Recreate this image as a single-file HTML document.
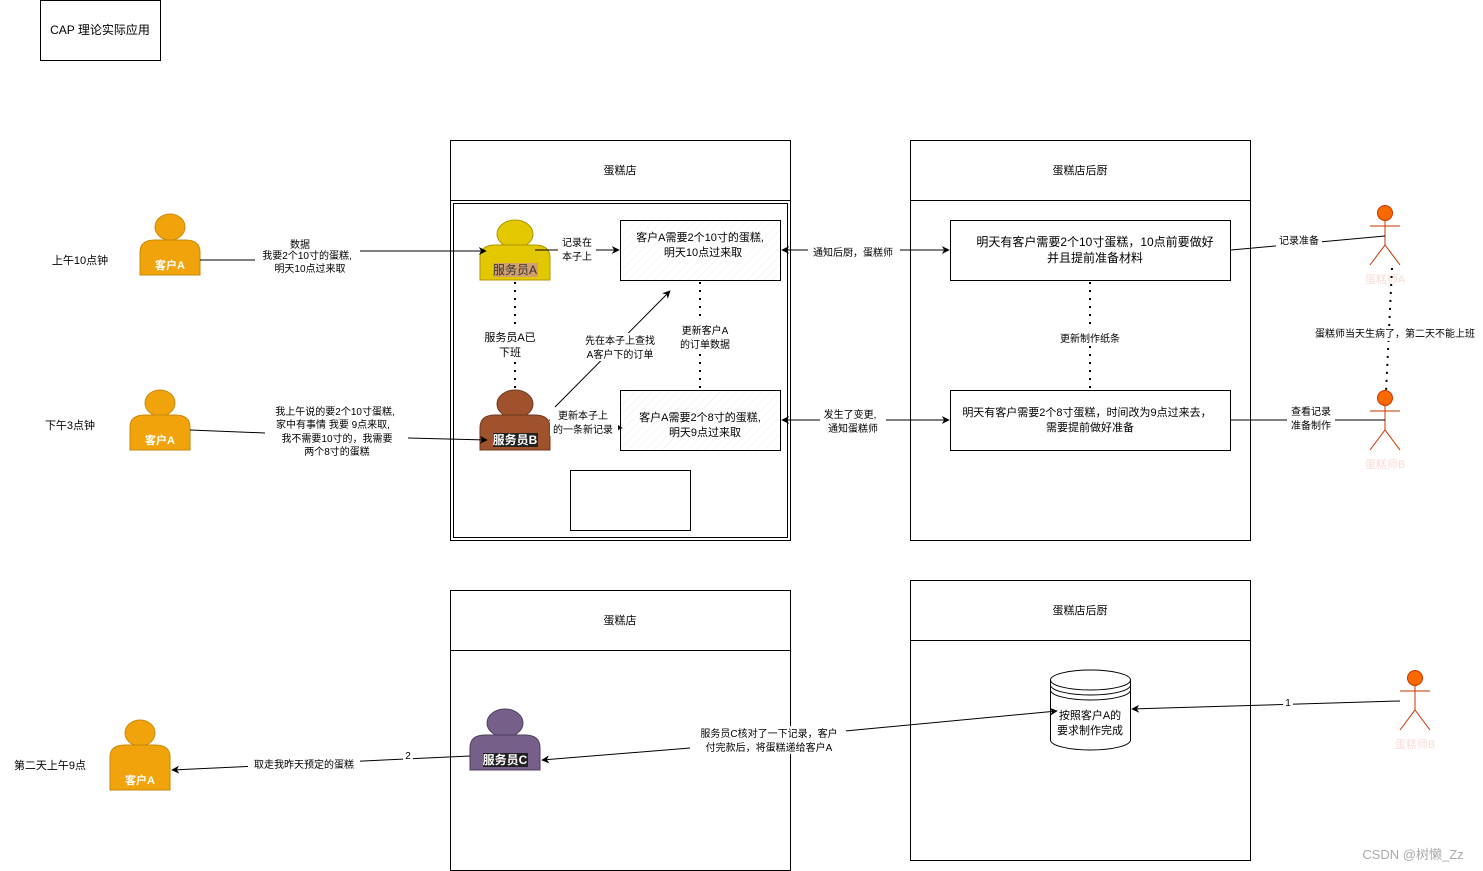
<!DOCTYPE html>
<html><head><meta charset="utf-8"><style>
html,body{margin:0;padding:0;background:#fff;}
svg{display:block;font-family:"Liberation Sans","Noto Sans CJK SC",sans-serif;}
</style></head><body>
<svg width="1483" height="871" viewBox="0 0 1483 871" xmlns="http://www.w3.org/2000/svg">
<defs>
<marker id="a" viewBox="0 0 10 10" refX="9" refY="5" markerWidth="8" markerHeight="8" orient="auto-start-reverse"><path d="M0,0 L10,5 L0,10 L3,5 Z" fill="#000"/></marker>
<pattern id="h" width="6" height="6" patternUnits="userSpaceOnUse" patternTransform="rotate(45)"><line x1="0" y1="0" x2="0" y2="6" stroke="#eee" stroke-width="1"/></pattern>
</defs>
<rect width="1483" height="871" fill="#fff"/>
<rect x="40.5" y="0.5" width="120" height="60" fill="#fff" stroke="#000"/>
<text x="100" y="34" font-size="12" text-anchor="middle">CAP 理论实际应用</text>

<g fill="none" stroke="#000">
<rect x="450.5" y="140.5" width="340" height="400"/><line x1="450" y1="200.5" x2="790" y2="200.5"/>
<rect x="453.5" y="203.5" width="334" height="334"/>
<rect x="910.5" y="140.5" width="340" height="400"/><line x1="910" y1="200.5" x2="1250" y2="200.5"/>
<rect x="450.5" y="590.5" width="340" height="280"/><line x1="450" y1="650.5" x2="790" y2="650.5"/>
<rect x="910.5" y="580.5" width="340" height="280"/><line x1="910" y1="640.5" x2="1250" y2="640.5"/>
</g>
<g font-size="11" text-anchor="middle">
<text x="620" y="174">蛋糕店</text><text x="1080" y="174">蛋糕店后厨</text>
<text x="620" y="624">蛋糕店</text><text x="1080" y="614">蛋糕店后厨</text>
</g>

<rect x="620.5" y="220.5" width="160" height="60" fill="url(#h)" stroke="#000"/>
<rect x="620.5" y="390.5" width="160" height="60" fill="url(#h)" stroke="#000"/>
<rect x="570.5" y="470.5" width="120" height="60" fill="#fff" stroke="#000"/>
<rect x="950.5" y="220.5" width="280" height="60" fill="#fff" stroke="#000"/>
<rect x="950.5" y="390.5" width="280" height="60" fill="#fff" stroke="#000"/>
<g font-size="11" text-anchor="middle">
<text x="700" y="241">客户A需要2个10寸的蛋糕,</text><text x="703" y="256">明天10点过来取</text>
<text x="700" y="421">客户A需要2个8寸的蛋糕,</text><text x="705" y="436">明天9点过来取</text>
<text x="1095" y="246" font-size="12">明天有客户需要2个10寸蛋糕，10点前要做好</text><text x="1095" y="262" font-size="12">并且提前准备材料</text>
<text x="1087" y="416">明天有客户需要2个8寸蛋糕，时间改为9点过来去，</text><text x="1090" y="431">需要提前做好准备</text>
</g>

<path d="M1050.5,680 A40,10 0 0 1 1130.5,680 L1130.5,740 A40,10 0 0 1 1050.5,740 Z" fill="#fff" stroke="#000"/>
<path d="M1050.5,680 A40,10 0 0 0 1130.5,680 M1050.5,685 A40,10 0 0 0 1130.5,685 M1050.5,690 A40,10 0 0 0 1130.5,690" fill="none" stroke="#000"/>
<text x="1090" y="719" font-size="11" text-anchor="middle">按照客户A的</text>
<text x="1090" y="734" font-size="11" text-anchor="middle">要求制作完成</text>

<ellipse cx="170" cy="227" rx="15" ry="13" fill="#f0a30a" stroke="#c98a08"/>
<path d="M140,275 L140,252 Q140,240 155,240 L185,240 Q200,240 200,252 L200,275 Z" fill="#f0a30a" stroke="#c98a08"/>
<text x="170" y="269" font-size="11" font-weight="bold" fill="#fff" text-anchor="middle">客户A</text>
<ellipse cx="160" cy="403" rx="15" ry="13" fill="#f0a30a" stroke="#c98a08"/>
<path d="M130,450 L130,427 Q130,415 145,415 L175,415 Q190,415 190,427 L190,450 Z" fill="#f0a30a" stroke="#c98a08"/>
<text x="160" y="444" font-size="11" font-weight="bold" fill="#fff" text-anchor="middle">客户A</text>
<ellipse cx="140" cy="733" rx="15" ry="13" fill="#f0a30a" stroke="#c98a08"/>
<path d="M110,790 L110,757 Q110,745 125,745 L155,745 Q170,745 170,757 L170,790 Z" fill="#f0a30a" stroke="#c98a08"/>
<text x="140" y="784" font-size="11" font-weight="bold" fill="#fff" text-anchor="middle">客户A</text>

<ellipse cx="515" cy="234" rx="18" ry="14" fill="#e3c800" stroke="#b09500"/>
<path d="M480,280 L480,258 Q480,245 495,245 L535,245 Q550,245 550,258 L550,280 Z" fill="#e3c800" stroke="#b09500"/>
<rect x="493" y="263" width="45" height="14" fill="#d2a070"/>
<text x="515" y="274" font-size="12" fill="#333" text-anchor="middle">服务员A</text>

<ellipse cx="515" cy="404" rx="18" ry="14" fill="#a0522d" stroke="#6d3a1f"/>
<path d="M480,450 L480,428 Q480,415 495,415 L535,415 Q550,415 550,428 L550,450 Z" fill="#a0522d" stroke="#6d3a1f"/>
<rect x="493" y="433" width="45" height="14" fill="#222"/>
<text x="515" y="444" font-size="12" font-weight="bold" fill="#fff" text-anchor="middle">服务员B</text>

<ellipse cx="505" cy="723" rx="18" ry="14" fill="#76608a" stroke="#4f3f5e"/>
<path d="M470,770 L470,748 Q470,735 485,735 L525,735 Q540,735 540,748 L540,770 Z" fill="#76608a" stroke="#4f3f5e"/>
<rect x="483" y="753" width="45" height="14" fill="#222"/>
<text x="505" y="764" font-size="12" font-weight="bold" fill="#fff" text-anchor="middle">服务员C</text>

<g stroke="#c73500" fill="#fa6800" stroke-width="1">
<circle cx="1385" cy="213" r="7.5"/><line x1="1385" y1="221" x2="1385" y2="245"/><line x1="1370" y1="226" x2="1400" y2="226"/><path d="M1370,265 L1385,245 L1400,265" fill="none"/>
<circle cx="1385" cy="398" r="7.5"/><line x1="1385" y1="406" x2="1385" y2="430"/><line x1="1370" y1="411" x2="1400" y2="411"/><path d="M1370,450 L1385,430 L1400,450" fill="none"/>
<circle cx="1415" cy="678" r="7.5"/><line x1="1415" y1="686" x2="1415" y2="710"/><line x1="1400" y1="691" x2="1430" y2="691"/><path d="M1400,730 L1415,710 L1430,730" fill="none"/>
</g>
<g font-size="11" fill="#f8dcd8" text-anchor="middle">
<text x="1385" y="283">蛋糕师A</text><text x="1385" y="468">蛋糕师B</text><text x="1415" y="748">蛋糕师B</text>
</g>

<g stroke="#000" fill="none">
<path d="M200,260 L255,260 M360,251 L486,251" marker-end="url(#a)"/>
<line x1="535" y1="250" x2="619" y2="250" marker-end="url(#a)"/>
<line x1="515" y1="282" x2="515" y2="388" stroke-dasharray="2,6" stroke-width="2"/>
<line x1="700" y1="282" x2="700" y2="388" stroke-dasharray="2,6" stroke-width="2"/>
<line x1="1090" y1="282" x2="1090" y2="388" stroke-dasharray="2,6" stroke-width="2"/>
<line x1="1392" y1="268" x2="1386" y2="392" stroke-dasharray="2,6" stroke-width="2"/>
<line x1="190" y1="430" x2="265" y2="433"/>
<line x1="408" y1="438" x2="487" y2="440" marker-end="url(#a)"/>
<line x1="555" y1="407" x2="670" y2="291" marker-end="url(#a)"/>
<path d="M549,420 L622,428" marker-end="url(#a)"/>
<line x1="782" y1="250" x2="949" y2="250" marker-start="url(#a)" marker-end="url(#a)"/>
<line x1="782" y1="420" x2="949" y2="420" marker-start="url(#a)" marker-end="url(#a)"/>
<line x1="1231" y1="250" x2="1385" y2="236"/>
<line x1="1231" y1="420" x2="1385" y2="420"/>
<line x1="1400" y1="701" x2="1132" y2="709" marker-end="url(#a)"/>
<line x1="845" y1="731" x2="1057" y2="711" marker-end="url(#a)"/>
<line x1="690" y1="748" x2="542" y2="760" marker-end="url(#a)"/>
<line x1="470" y1="756" x2="172" y2="770" marker-end="url(#a)"/>
</g>

<g font-size="10" text-anchor="middle">
<rect x="255" y="237" width="105" height="38" fill="#fff"/>
<text x="300" y="248">数据</text><text x="307" y="259">我要2个10寸的蛋糕,</text><text x="310" y="272">明天10点过来取</text>
<rect x="558" y="236" width="38" height="28" fill="#fff"/>
<text x="577" y="246">记录在</text><text x="577" y="260">本子上</text>
<rect x="480" y="328" width="60" height="32" fill="#fff"/>
<text x="510" y="341" font-size="11">服务员A已</text><text x="510" y="356" font-size="11">下班</text>
<rect x="578" y="333" width="84" height="28" fill="#fff"/>
<text x="620" y="344">先在本子上查找</text><text x="620" y="358">A客户下的订单</text>
<rect x="676" y="322" width="58" height="28" fill="#fff"/>
<text x="705" y="334">更新客户A</text><text x="705" y="348">的订单数据</text>
<rect x="1055" y="330" width="70" height="16" fill="#fff"/>
<text x="1090" y="342">更新制作纸条</text>
<rect x="550" y="408" width="68" height="28" fill="#fff"/>
<text x="583" y="419">更新本子上</text><text x="583" y="433">的一条新记录</text>
<rect x="265" y="405" width="140" height="54" fill="#fff"/>
<text x="335" y="415">我上午说的要2个10寸蛋糕,</text><text x="333" y="428">家中有事情 我要 9点来取,</text><text x="337" y="442">我不需要10寸的，我需要</text><text x="337" y="455">两个8寸的蛋糕</text>
<rect x="808" y="244" width="92" height="14" fill="#fff"/>
<text x="853" y="256">通知后厨，蛋糕师</text>
<rect x="820" y="408" width="66" height="28" fill="#fff"/>
<text x="850" y="418">发生了变更,</text><text x="853" y="432">通知蛋糕师</text>
<rect x="1276" y="234" width="46" height="14" fill="#fff"/>
<text x="1299" y="244">记录准备</text>
<rect x="1287" y="405" width="48" height="28" fill="#fff"/>
<text x="1311" y="415">查看记录</text><text x="1311" y="429">准备制作</text>
<rect x="1305" y="326" width="178" height="15" fill="#fff"/>
<text x="1395" y="337">蛋糕师当天生病了，第二天不能上班</text>
<rect x="1283" y="697" width="10" height="12" fill="#fff"/>
<text x="1288" y="706">1</text>
<rect x="692" y="726" width="154" height="28" fill="#fff"/>
<text x="769" y="737">服务员C核对了一下记录，客户</text><text x="769" y="751">付完款后，将蛋糕递给客户A</text>
<rect x="403" y="750" width="10" height="12" fill="#fff"/>
<text x="408" y="759">2</text>
<rect x="248" y="757" width="112" height="14" fill="#fff"/>
<text x="304" y="768">取走我昨天预定的蛋糕</text>
</g>
<g font-size="11" text-anchor="middle">
<text x="80" y="264">上午10点钟</text><text x="70" y="429">下午3点钟</text><text x="50" y="769">第二天上午9点</text>
</g>
<text x="1413" y="859" font-size="13" fill="#aaa" text-anchor="middle">CSDN @树懒_Zz</text>
</svg>
</body></html>
